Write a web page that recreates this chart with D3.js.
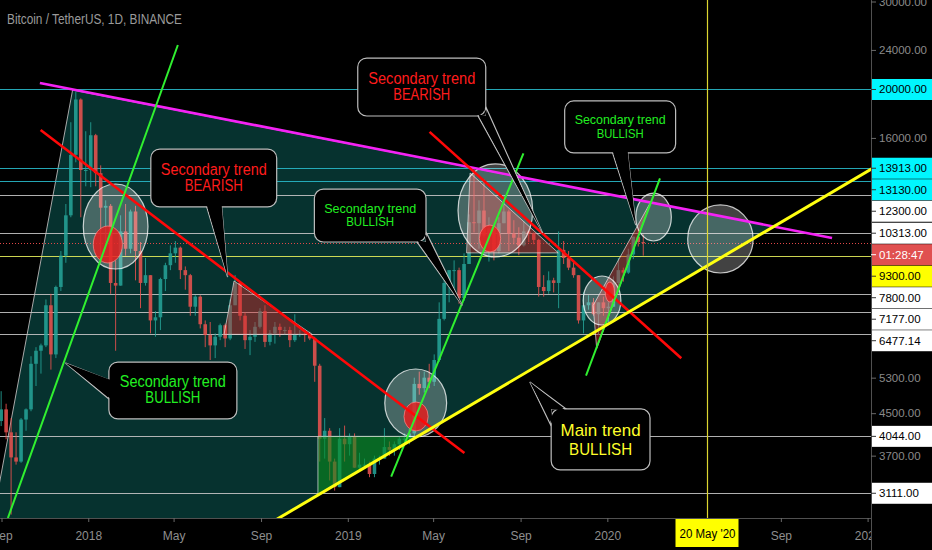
<!DOCTYPE html>
<html><head><meta charset="utf-8">
<script src="https://cdn.jsdelivr.net/npm/d3@7/dist/d3.min.js"></script>
<style>html,body{margin:0;padding:0;background:#000;overflow:hidden}svg{display:block;font-family:"Liberation Sans",Arial,sans-serif}</style>
</head><body><svg id="chart" width="932" height="550"></svg>
<script>
// ---------------- DATA ----------------
const title = "Bitcoin / TetherUS, 1D, BINANCE";
const firstWeek = "2017-08-28"; // weekly bars, one per Monday
const opens = [4340,4580,4120,3670,3600,4370,4580,5650,6000,6150,
 7400,5900,8050,9300,11200,14800,19100,13800,13800,16200,
 13600,11600,11700,8200,8100,10400,9600,11400,9500,8200,
 8500,6900,7000,8350,8900,9400,9650,8700,8500,7350,
 7700,6780,6450,6150,6400,6750,6350,7400,8200,7050,
 6300,6400,6700,7200,6250,6500,6700,6600,6600,6300,
 6450,6480,6450,6350,5600,4000,4150,3600,3200,4000,
 3900,4050,3500,3550,3550,3400,3650,3650,3850,3800,
 3900,4000,4000,4100,5150,5050,5300,5200,5750,6950,
 8200,8700,8700,7650,8950,10850,10800,11450,10200,10550,
 9500,10800,11400,10300,10100,9750,10400,10300,10000,8050,
 7900,8300,8200,9550,9200,8800,8500,6900,7400,7500,
 7100,7500,7300,7350,8200,8700,8600,9350,10150,9900];
const highs = [4980,4700,4400,4120,4400,4600,5850,6100,6200,7600,
 7800,8100,9500,11800,17200,19800,19200,16500,17200,16300,
 14100,12000,11800,9100,11200,11800,11500,11700,9900,9200,
 8500,7200,8400,9000,9750,9950,9700,8850,8550,7750,
 7750,6900,6850,6500,6800,6800,7600,8500,8250,7150,
 6600,6850,7300,7400,6600,6850,6800,6700,6700,7100,
 6600,6500,6550,6400,5650,4400,4200,3650,4200,4250,
 4100,4100,3750,3650,3600,3700,3700,4200,3950,3950,
 4050,4100,4200,5300,5450,5450,5650,5900,7500,8350,
 8700,9100,8800,9400,11250,13970,12000,13200,11100,10700,
 11100,12300,11500,10950,10600,10900,10450,10350,10050,8500,
 8650,8400,10400,9950,9500,9100,8500,7850,7750,7650,
 7500,7700,7500,8450,9200,8800,9600,10150,10500,10250];
const lows = [4240,3990,2820,3550,3580,4150,4540,5100,5400,6100,
 5500,5800,7900,9000,11100,14300,11100,12800,12750,12800,
 9000,9900,7800,6000,8100,9300,9400,8300,7300,8100,
 6500,6400,6600,7900,8700,9000,8350,7950,7050,7050,
 6650,6100,5750,5800,6300,6100,6300,7400,6900,6050,
 5880,6250,6650,6100,6150,6200,6400,6450,6100,6250,
 6400,6250,6300,5200,3600,3650,3300,3150,3200,3600,
 3700,3500,3450,3500,3350,3350,3550,3650,3700,3700,
 3800,3950,3900,4050,4900,4950,5050,5100,5700,6900,
 7500,8000,7450,7550,8950,10350,9600,10100,9050,9100,
 9400,10800,9500,9800,9320,9700,9900,9800,7700,7700,
 7800,7850,7300,8950,8700,8400,6800,6500,7250,7050,
 6450,7050,6850,7350,8100,8250,8550,9150,9700,9300];
const closes = [4580,4120,3670,3600,4370,4580,5650,6000,6150,7400,
 5900,8050,9300,11200,14800,19100,13800,13800,16200,13600,
 11600,11700,8200,8100,10400,9600,11400,9500,8200,8500,
 6900,7000,8350,8900,9400,9650,8700,8500,7350,7700,
 6780,6450,6150,6400,6750,6350,7400,8200,7050,6300,
 6400,6700,7200,6250,6500,6700,6600,6600,6300,6450,
 6480,6450,6350,5600,4000,4150,3600,3200,4000,3900,
 4050,3500,3550,3550,3400,3650,3650,3850,3800,3900,
 4000,4000,4100,5150,5050,5300,5200,5750,6950,8200,
 8700,8700,7650,8950,10850,10800,11450,10200,10550,9500,
 10800,11400,10300,10100,9750,10400,10300,10000,8050,7900,
 8300,8200,9550,9200,8800,8500,6900,7400,7500,7100,
 7500,7300,7350,8200,8700,8600,9350,10150,9900,9850];

const levels = [20000,13913,13130,12300,10313,9300,7800,7177,6477.14,4044,3111];
const levelKinds = ["cyan","cyan","cyan","white","white","yellow","white","white","white","white","white"];
const lastPrice = 9860;
const countdown = "01:28:47";
const yTicks = [30000,24000,16000,5300,4500,3700];
const xTicks = ["2017-09-01","2018-01-01","2018-05-01","2018-09-01","2019-01-01","2019-05-01","2019-09-01","2020-01-01","2020-09-01","2021-01-01"];
const markerDate = "2020-05-20";
const markerLabel = "20 May '20";

// drawings, anchored in [date, price]
const resistanceLine = [["2017-10-25",20600],["2020-11-12",10090]];
const mainTrendLine = [["2018-11-13",3044],["2020-08-02",10230]];
const cycleEdge = [["2017-08-20",2776],["2017-12-10",19950]];
const redLines = [
  [["2017-10-26",16590],["2019-06-14",3746]],
  [["2019-04-26",16450],["2020-04-14",5796]]];
const greenLines = [
  [["2017-09-10",2776],["2018-05-07",24550]],
  [["2019-03-03",3358],["2019-09-05",14906]],
  [["2019-12-02",5348],["2020-03-15",13284]]];
const bearZones = [
  [["2018-07-25",8276],["2018-07-11",6470],["2018-11-12",6470]],
  [["2019-06-22",13612],["2019-06-17",9420],["2019-10-24",9420]],
  [["2019-12-12",7390],["2020-03-02",11910],["2020-02-23",11060],["2019-12-17",6062]]];
const bullZone = [["2018-11-20",4044],["2019-04-08",4044],["2018-11-20",3090]];
const bigEllipses = [
  [["2017-12-25",12940],["2018-03-26",8746]],
  [["2019-02-22",5516],["2019-05-20",4032]],
  [["2019-06-05",14190],["2019-09-18",9242]],
  [["2019-11-28",8468],["2020-01-20",6756]],
  [["2020-02-10",12410],["2020-03-31",9950]],
  [["2020-04-23",11750],["2020-07-24",8586]]];
const redEllipses = [
  [["2018-01-08",10660],["2018-02-18",8990]],
  [["2019-03-21",4738],["2019-04-24",4146]],
  [["2019-07-05",10710],["2019-08-04",9458]],
  [["2019-12-29",8236],["2020-01-11",7512]]];
const calloutTexts = [
  ["Secondary trend","BEARISH"],
  ["Secondary trend","BULLISH"],
  ["Secondary trend","BEARISH"],
  ["Secondary trend","BULLISH"],
  ["Secondary trend","BULLISH"],
  ["Main trend","BULLISH"]];
const calloutBoxes = [
  [["2018-03-30",15200],["2018-09-23",11640]],
  [["2018-11-15",12640],["2019-04-21",9904]],
  [["2019-01-15",23120],["2019-07-14",17700]],
  [["2019-11-02",18970],["2020-04-06",14930]],
  [["2018-01-30",5696],["2018-07-29",4382]],
  [["2019-10-14",4590],["2020-03-01",3464]]];
const calloutTips = [
  ["2018-07-16",8430],
  ["2019-06-11",7391],
  ["2019-10-02",10320],
  ["2020-02-10",10710],
  ["2017-11-30",5670],
  ["2019-09-14",5196]];

// ---------------- STYLE / LAYOUT ----------------
const W = 932, H = 550, plotR = 871, plotB = 518;
const calloutStyle = [
  {color:"#ff1c1c", fs:16, lh:15.7, w:[106,58], bases:[["bottom",0.444],["bottom",0.563]]},
  {color:"#22f022", fs:13.5, lh:13.8, w:[92,48], bases:[["bottom",0.92],["right",0.81]]},
  {color:"#ff1c1c", fs:16, lh:15.5, w:[107,57], bases:[["bottom",0.94],["right",0.84]]},
  {color:"#22f022", fs:13.5, lh:13.8, w:[91,47], bases:[["bottom",0.432],["bottom",0.568]]},
  {color:"#22f022", fs:16, lh:16, w:[106,55], bases:[["left",0.316],["left",0.649]]},
  {color:"#ffff2a", fs:17, lh:18.5, w:[80,63], bases:[["top",0.15],["left",0.28]]}];
const levelColor = {cyan:"#28b9c8", white:"#c4c4c4", yellow:"#e2ec5a"};
const labelBg = {cyan:"#00f6ff", white:"#ffffff", yellow:"#ffff00", red:"#e05050"};
const upColor = "#26a69a", downColor = "#ef5350";

const P = d3.timeParse("%Y-%m-%d");
const x = d3.scaleTime().domain([P("2017-09-01"), P("2021-01-01")]).range([1.5, 867.6]);
const y = d3.scaleLog().domain([2776, 30210]).range([plotB, 0]);
const pt = a => [x(P(a[0])), y(a[1])];
const line = d3.line();

function inter(a1,a2,b1,b2){
  const d=(a1[0]-a2[0])*(b1[1]-b2[1])-(a1[1]-a2[1])*(b1[0]-b2[0]);
  const t=((a1[0]-b1[0])*(b1[1]-b2[1])-(a1[1]-b1[1])*(b1[0]-b2[0]))/d;
  return [a1[0]+t*(a2[0]-a1[0]), a1[1]+t*(a2[1]-a1[1])];
}

const svg = d3.select("#chart");
svg.append("rect").attr("width",W).attr("height",H).attr("fill","#000");
const defs = svg.append("defs");
defs.append("clipPath").attr("id","plotClip").append("rect").attr("width",plotR).attr("height",plotB);
defs.append("clipPath").attr("id","xClip").append("rect").attr("x",0).attr("y",0).attr("width",plotR).attr("height",H-plotB);
const plot = svg.append("g").attr("clip-path","url(#plotClip)");

// teal cycle triangle
const mt = mainTrendLine.map(pt), rs = resistanceLine.map(pt), ce = cycleEdge.map(pt);
const triA = inter(ce[0],ce[1],mt[0],mt[1]);
const triB = inter(rs[0],rs[1],mt[0],mt[1]);
plot.append("path").attr("d", line([triA, ce[1], triB])+"Z")
  .attr("fill","#06322f").attr("stroke","#a8a8a8").attr("stroke-width",1);

// horizontal levels
plot.selectAll(".lvl").data(levels).join("line").attr("class","lvl")
  .attr("x1",0).attr("x2",plotR)
  .attr("y1",d=>Math.round(y(d))+0.5).attr("y2",d=>Math.round(y(d))+0.5)
  .attr("stroke",(d,i)=>levelColor[levelKinds[i]]).attr("stroke-width",1).attr("opacity",0.9);
plot.append("line").attr("x1",0).attr("x2",plotR)
  .attr("y1",Math.round(y(lastPrice))+0.5).attr("y2",Math.round(y(lastPrice))+0.5)
  .attr("stroke","#e04848").attr("stroke-dasharray","1,2").attr("stroke-width",1);

// candles
const t0 = P(firstWeek);
const candles = opens.map((o,i)=>({t:d3.timeHour.offset(d3.timeDay.offset(t0,7*i),84), o, h:highs[i], l:lows[i], c:closes[i]}));
const cg = plot.append("g").attr("opacity",0.85);
cg.selectAll("line").data(candles).join("line")
  .attr("x1",d=>x(d.t)).attr("x2",d=>x(d.t)).attr("y1",d=>y(d.h)).attr("y2",d=>y(d.l))
  .attr("stroke",d=>d.c>=d.o?upColor:downColor).attr("stroke-width",1);
cg.selectAll("rect").data(candles).join("rect")
  .attr("x",d=>x(d.t)-1.8).attr("width",3.6)
  .attr("y",d=>y(Math.max(d.o,d.c))).attr("height",d=>Math.max(1,Math.abs(y(d.o)-y(d.c))))
  .attr("fill",d=>d.c>=d.o?upColor:downColor);

// zones
plot.append("path").attr("d", line(bullZone.map(pt))+"Z")
  .attr("fill","rgba(10,140,30,0.6)").attr("stroke","rgba(230,230,230,0.7)").attr("stroke-width",1);
plot.selectAll(".bear").data(bearZones).join("path").attr("class","bear")
  .attr("d",d=>line(d.map(pt))+"Z")
  .attr("fill","rgba(215,45,45,0.45)").attr("stroke","rgba(235,235,235,0.65)").attr("stroke-width",1);

// ellipses
function ell(sel, data, fill, stroke, sw){
  sel.selectAll(null).data(data).join("ellipse")
    .attr("cx",d=>(pt(d[0])[0]+pt(d[1])[0])/2).attr("cy",d=>(pt(d[0])[1]+pt(d[1])[1])/2)
    .attr("rx",d=>Math.abs(pt(d[1])[0]-pt(d[0])[0])/2).attr("ry",d=>Math.abs(pt(d[1])[1]-pt(d[0])[1])/2)
    .attr("fill",fill).attr("stroke",stroke).attr("stroke-width",sw);
}
ell(plot, bigEllipses, "rgba(255,255,255,0.26)", "rgba(255,255,255,0.75)", 1.2);
ell(plot, redEllipses, "rgba(228,30,30,0.85)", "rgba(255,140,140,0.7)", 1);

// trend lines
plot.append("path").attr("d",line(rs)).attr("stroke","#f522f5").attr("stroke-width",2.6).attr("fill","none");
redLines.forEach(l=>plot.append("path").attr("d",line(l.map(pt))).attr("stroke","#ff0808").attr("stroke-width",2.6).attr("fill","none"));
greenLines.forEach(l=>plot.append("path").attr("d",line(l.map(pt))).attr("stroke","#30f030").attr("stroke-width",2).attr("fill","none"));
const slope = (mt[1][1]-mt[0][1])/(mt[1][0]-mt[0][0]);
const mtExt = [[-50, mt[0][1]+slope*(-50-mt[0][0])],[plotR+50, mt[0][1]+slope*(plotR+50-mt[0][0])]];
plot.append("path").attr("d",line(mtExt)).attr("stroke","#ffff10").attr("stroke-width",3).attr("fill","none");

// vertical marker
const mx = Math.round(x(P(markerDate)))+0.5;
svg.append("line").attr("x1",mx).attr("x2",mx).attr("y1",0).attr("y2",plotB)
  .attr("stroke","#dcd530").attr("stroke-width",1.2);

// callouts
const cl = svg.append("g").attr("clip-path","url(#plotClip)");
calloutBoxes.forEach((b,i)=>{
  const st = calloutStyle[i];
  const [x0,y0] = pt(b[0]), [x1,y1] = pt(b[1]);
  const ep = (e,t,inset)=> e==="bottom"?[x0+(x1-x0)*t, y1-inset]: e==="top"?[x0+(x1-x0)*t, y0+inset]
           : e==="left"?[x0+inset, y0+(y1-y0)*t]:[x1-inset, y0+(y1-y0)*t];
  const corner = (e1,e2)=>{
    const s = new Set([e1,e2]);
    if (s.size<2) return null;
    return [s.has("left")?x0:x1, s.has("top")?y0:y1];
  };
  const tip = pt(calloutTips[i]);
  const c = corner(st.bases[0][0], st.bases[1][0]);
  const mk = inset => { const a=[tip, ep(st.bases[0][0],st.bases[0][1],inset)]; if(c) a.push(c); a.push(ep(st.bases[1][0],st.bases[1][1],inset)); return a; };
  const g = cl.append("g");
  g.append("path").attr("d",line(mk(0))+"Z").attr("fill","#000").attr("stroke","#bdbdbd").attr("stroke-width",1.2);
  g.append("rect").attr("x",x0).attr("y",y0).attr("width",x1-x0).attr("height",y1-y0).attr("rx",9)
    .attr("fill","#000").attr("stroke","#bdbdbd").attr("stroke-width",1.2);
  g.append("path").attr("d",line(mk(2))+"Z").attr("fill","#000");
  const cx=(x0+x1)/2, cy=(y0+y1)/2;
  const n = calloutTexts[i].length;
  calloutTexts[i].forEach((t,k)=>{
    g.append("text").text(t).attr("x",cx).attr("y",cy-3+k*st.lh)
      .attr("text-anchor","middle").attr("fill",st.color).attr("font-size",st.fs)
      .attr("textLength",st.w[k]).attr("lengthAdjust","spacingAndGlyphs");
  });
});

// axes frame
svg.append("line").attr("x1",0).attr("x2",plotR).attr("y1",plotB+0.5).attr("y2",plotB+0.5).attr("stroke","#505050");
svg.append("line").attr("x1",plotR+0.5).attr("x2",plotR+0.5).attr("y1",0).attr("y2",H).attr("stroke","#505050");

// bottom axis
const fmtM = d3.timeFormat("%b");
const xAxis = d3.axisBottom(x).tickValues(xTicks.map(P))
  .tickFormat(d=>d.getMonth()===0? String(d.getFullYear()) : fmtM(d)).tickSize(4).tickPadding(9).tickSizeOuter(0);
const xg = svg.append("g").attr("transform",`translate(0,${plotB})`).attr("clip-path","url(#xClip)").call(xAxis);
xg.select(".domain").remove();
xg.selectAll("line").attr("stroke","#6a6a6a");
xg.selectAll("text").attr("fill","#8e8e8e").attr("font-size",12).attr("font-family","Liberation Sans, Arial, sans-serif");

// marker label
svg.append("rect").attr("x",mx-32).attr("y",plotB+1).attr("width",63).attr("height",28).attr("fill","#ffff00");
svg.append("text").text(markerLabel).attr("x",mx).attr("y",plotB+20).attr("text-anchor","middle")
  .attr("font-size",12).attr("fill","#000").attr("textLength",56).attr("lengthAdjust","spacingAndGlyphs");

// right axis ticks
const yAxis = d3.axisRight(y).tickValues(yTicks).tickFormat(d=>d.toFixed(2)).tickSize(5).tickPadding(3).tickSizeOuter(0);
const yg = svg.append("g").attr("transform",`translate(${plotR},0)`).call(yAxis);
yg.select(".domain").remove();
yg.selectAll("line").attr("stroke","#6a6a6a");
yg.selectAll("text").attr("fill","#8a8a8a").attr("font-size",11.5).attr("font-family","Liberation Sans, Arial, sans-serif");

// right axis boxed labels
const labels = levels.map((v,i)=>({kind:levelKinds[i], text:v.toFixed(2), y:y(v)}));
labels.push({kind:"red", text:countdown, y:y(lastPrice)+10});
labels.sort((a,b)=>a.y-b.y);
let prev=-1e9;
labels.forEach(l=>{ l.ly=Math.max(l.y, prev+21.5); prev=l.ly; });
const lg = svg.append("g");
labels.forEach(l=>{
  lg.append("rect").attr("x",plotR+1).attr("y",l.ly-10.5).attr("width",W-plotR-1).attr("height",21).attr("fill",labelBg[l.kind]);
  lg.append("line").attr("x1",plotR).attr("x2",plotR+5).attr("y1",l.ly).attr("y2",l.ly).attr("stroke",l.kind==="red"?"#fff":"#333");
  lg.append("text").text(l.text).attr("x",plotR+8).attr("y",l.ly+4).attr("font-size",11.5)
    .attr("fill",l.kind==="red"?"#ffffff":"#000");
});

// title
svg.append("text").text(title).attr("x",7).attr("y",24).attr("font-size",14).attr("fill","#9a9a9a")
  .attr("textLength",175).attr("lengthAdjust","spacingAndGlyphs");
</script></body></html>
